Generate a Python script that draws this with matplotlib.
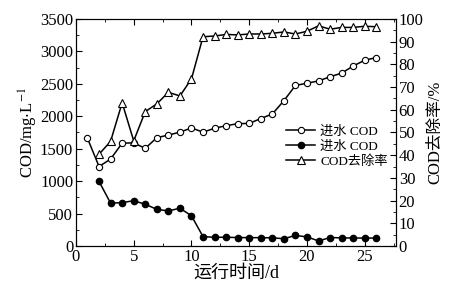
import numpy as np
import matplotlib.pyplot as plt

plt.rcParams['font.family'] = ['Liberation Serif', 'Noto Sans CJK SC']
plt.rcParams['mathtext.fontset'] = 'stix'

# 运行时间 (d)
days_in = np.arange(1, 27)
days_out = np.arange(2, 27)
days_rate = np.arange(2, 27)

# 进水 COD (mg/L)
cod_in = [1660, 1225, 1340, 1585, 1590, 1505, 1670, 1710, 1755, 1820,
          1755, 1815, 1855, 1885, 1890, 1965, 2035, 2240, 2475, 2510,
          2545, 2610, 2665, 2775, 2865, 2905]
# 出水 COD (mg/L), labelled 进水 COD in the legend
cod_out = [995, 660, 668, 698, 643, 565, 540, 582, 465, 144,
           134, 134, 130, 128, 128, 125, 112, 162, 140, 77,
           130, 125, 122, 122, 122]
# COD 去除率 (%)
rate = [40.4, 46.1, 63.1, 46.3, 59.2, 62.6, 67.7, 66.1, 73.6, 92.2,
        92.5, 93.2, 93.0, 93.4, 93.4, 93.7, 94.3, 93.4, 94.6, 97.0,
        95.5, 96.3, 96.3, 96.8, 96.6]

fig = plt.figure(figsize=(4.52, 2.88), dpi=100)
ax = fig.add_axes([0.168, 0.146, 0.708, 0.788])
ax2 = ax.twinx()

l1, = ax.plot(days_in, cod_in, 'k-o', mfc='white', mec='black', ms=4.5, lw=1.1, mew=0.8)
l2, = ax.plot(days_out, cod_out, 'k-o', mfc='black', ms=4.5, lw=1.1)
l3, = ax2.plot(days_rate, rate, 'k-^', mfc='white', mec='black', ms=6, lw=1.1, mew=0.8)

ax.set_xlim(0, 27.7)
ax.set_ylim(0, 3500)
ax2.set_ylim(0, 100)
ax.set_xticks([0, 5, 10, 15, 20, 25])
ax.set_xticks(np.arange(2.5, 27.7, 5), minor=True)
ax.set_yticks(np.arange(0, 3501, 500))
ax.set_yticks(np.arange(250, 3500, 500), minor=True)
ax2.set_yticks(np.arange(0, 101, 10))
ax2.set_yticks(np.arange(5, 100, 10), minor=True)

ax.tick_params(which='both', direction='in', top=True, labelsize=12, pad=2)
ax.tick_params(which='major', length=4)
ax.tick_params(which='minor', length=2)
ax2.tick_params(which='both', direction='in', labelsize=12, pad=2)
ax2.tick_params(which='major', length=4)
ax2.tick_params(which='minor', length=2)

ax.set_xlabel('运行时间/d', fontsize=13, labelpad=0)
ax.set_ylabel('COD/mg$\\cdot$L$^{-1}$', fontsize=12, labelpad=0)
ax2.set_ylabel('COD去除率/%', fontsize=12, labelpad=3)

ax2.legend([l1, l2, l3], ['进水 COD', '进水 COD', 'COD去除率'],
           loc='upper left', bbox_to_anchor=(0.64, 0.555), frameon=False,
           fontsize=9.5, handlelength=2.2, handletextpad=0.4, labelspacing=0.2,
           borderaxespad=0)

fig.savefig('out.png', dpi=100)
